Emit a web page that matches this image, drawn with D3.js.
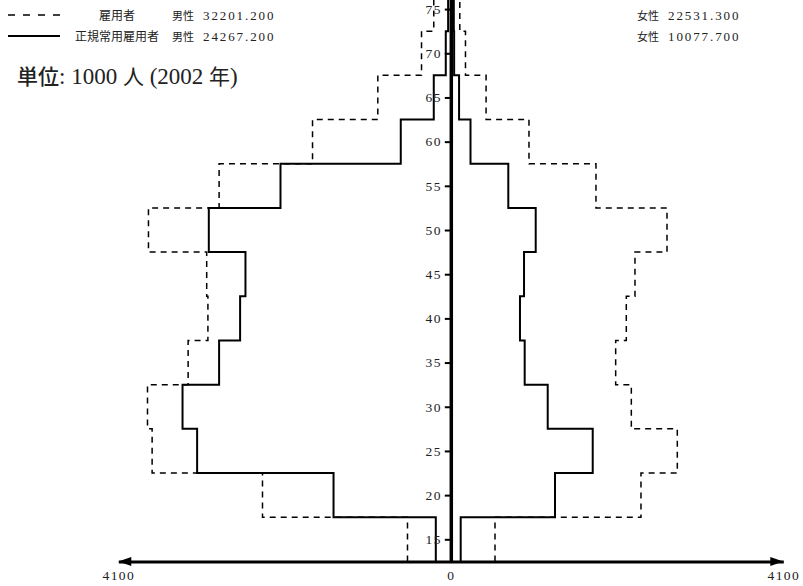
<!DOCTYPE html>
<html lang="ja">
<head>
<meta charset="UTF-8">
<script src="https://cdnjs.cloudflare.com/ajax/libs/d3/7.8.5/d3.min.js"></script>
<title>雇用者 年齢別 2002</title>
<style>
    html, body {
        margin: 0;
        padding: 0;
        background: #fff;
    }
    .num {
        font-family: "Liberation Serif", serif;
        fill: #222;
    }
    .jp {
        font-family: "Noto Sans CJK JP", sans-serif;
        fill: #222;
    }
</style>
</head>
<body>
<script>
    // age groups (label position = middle of the 5 year class)
    const ageGroups = ['15-19', '20-24', '25-29', '30-34', '35-39', '40-44', '45-49',
                       '50-54', '55-59', '60-64', '65-69', '70-74', '75+'];
    const ageMid = [15, 20, 25, 30, 35, 40, 45, 50, 55, 60, 65, 70, 75];

    // thousands of persons
    const maleEmployees   = [534, 2322, 3683, 3740, 3239, 2995, 3010, 3728, 2857, 1705, 900, 361, 210];
    const maleRegular     = [185, 1446, 3128, 3308, 2857, 2598, 2532, 2984, 2100, 617, 210, 62, 33];
    const femaleEmployees = [545, 2345, 2793, 2226, 2033, 2164, 2271, 2666, 1790, 964, 435, 181, 111];
    const femaleRegular   = [122, 1285, 1750, 1195, 911, 853, 903, 1047, 709, 243, 102, 41, 37];

    const seriesNames = ['雇用者', '正規常用雇用者'];
    const maleTotals = ['32201.200', '24267.200'];
    const femaleTotals = ['22531.300', '10077.700'];

    const ageTicks = [15, 20, 25, 30, 35, 40, 45, 50, 55, 60, 65, 70, 75];
    const xTicks = [-4100, 0, 4100];
    const unitText = ['単位', ': 1000 ', '人', ' (2002 ', '年', ')'];

    const width = 803;
    const height = 586;
    const halfClass = 2.5;

    const svg = d3.select('body')
        .append('svg')
        .attr('width', width)
        .attr('height', height);

    const x = d3.scaleLinear()
        .domain([-4100, 4100])
        .range([118.3, 783.3]);

    const y = d3.scaleLinear()
        .domain([12.5, 77.5])
        .range([561.4, -13]);

    const line = d3.line()
        .x(function(d) { return x(d[0]) })
        .y(function(d) { return y(d[1]) });

    const stepPoints = function(values, sign) {
        return values.flatMap(function(v, i) {
            return [[sign * v, ageMid[i] - halfClass], [sign * v, ageMid[i] + halfClass]];
        });
    };

    // step outlines
    const series = [
        { values: maleEmployees, sign: -1, dash: '6,5', w: 1.5 },
        { values: femaleEmployees, sign: 1, dash: '6,5', w: 1.5 },
        { values: maleRegular, sign: -1, dash: null, w: 2 },
        { values: femaleRegular, sign: 1, dash: null, w: 2 }
    ];

    svg.selectAll('.step')
        .data(series)
        .enter()
        .append('path')
        .attr('class', 'step')
        .attr('d', function(s) { return line(stepPoints(s.values, s.sign)) })
        .attr('fill', 'none')
        .attr('stroke', '#000')
        .attr('stroke-width', function(s) { return s.w })
        .attr('stroke-dasharray', function(s) { return s.dash });

    // vertical age axis in the middle
    const yAxis = d3.axisLeft(y)
        .tickValues(ageTicks)
        .tickSizeInner(6)
        .tickSizeOuter(0)
        .tickPadding(3);

    const yAxisG = svg.append('g')
        .attr('transform', 'translate(' + x(0) + ',0)')
        .call(yAxis);

    yAxisG.select('.domain').attr('stroke', '#000').attr('stroke-width', 3.5);
    yAxisG.selectAll('.tick line').attr('stroke', '#000').attr('stroke-width', 2).attr('x2', -6).attr('x1', 2);
    yAxisG.selectAll('.tick text')
        .attr('class', 'num')
        .attr('font-size', 13.5)
        .attr('letter-spacing', 1.4)
        .attr('font-family', null);

    // horizontal axis with arrows
    const xAxis = d3.axisBottom(x)
        .tickValues(xTicks)
        .tickSize(0)
        .tickPadding(9)
        .tickFormat(function(d) { return Math.abs(d) });

    const xAxisG = svg.append('g')
        .attr('transform', 'translate(0,' + y(12.5) + ')')
        .call(xAxis);

    xAxisG.select('.domain').attr('stroke', '#000').attr('stroke-width', 3);
    xAxisG.selectAll('.tick text')
        .attr('class', 'num')
        .attr('font-size', 13.5)
        .attr('letter-spacing', 1.4)
        .attr('font-family', null);

    xAxisG.selectAll('.arrow')
        .data([xTicks[0], xTicks[2]])
        .enter()
        .append('path')
        .attr('class', 'arrow')
        .attr('d', function(d) {
            const tip = x(d);
            const back = d < 0 ? tip + 13 : tip - 13;
            return 'M' + tip + ',0L' + back + ',-4.5L' + back + ',4.5Z';
        })
        .attr('fill', '#000');

    // legend
    const legend = svg.append('g').attr('class', 'legend');
    const legendY = [15, 36];

    legend.selectAll('.legend-line')
        .data(seriesNames)
        .enter()
        .append('line')
        .attr('x1', 8)
        .attr('x2', 60)
        .attr('y1', function(d, i) { return legendY[i] })
        .attr('y2', function(d, i) { return legendY[i] })
        .attr('stroke', '#000')
        .attr('stroke-width', function(d, i) { return i ? 2 : 1.5 })
        .attr('stroke-dasharray', function(d, i) { return i ? null : '7,8' });

    legend.selectAll('.legend-name')
        .data(seriesNames)
        .enter()
        .append('text')
        .attr('class', 'jp')
        .attr('x', 117)
        .attr('y', function(d, i) { return legendY[i] + 4.5 })
        .attr('text-anchor', 'middle')
        .attr('font-size', 12)
        .text(function(d) { return d });

    const totalText = function(xPos, totals, label) {
        const t = legend.selectAll(null)
            .data(totals)
            .enter()
            .append('text')
            .attr('x', xPos)
            .attr('y', function(d, i) { return legendY[i] + 4.5 });
        t.append('tspan')
            .attr('class', 'jp')
            .attr('font-size', 11)
            .text(label);
        t.append('tspan')
            .attr('class', 'num')
            .attr('dx', 9)
            .attr('font-size', 13)
            .attr('letter-spacing', 1.9)
            .text(function(d) { return d });
    };

    totalText(172, maleTotals, '男性');
    totalText(637, femaleTotals, '女性');

    // unit note
    const unit = svg.append('text')
        .attr('x', 17)
        .attr('y', 84)
        .attr('font-size', 23);

    unit.selectAll('tspan')
        .data(unitText)
        .enter()
        .append('tspan')
        .attr('class', function(d, i) { return i % 2 ? 'num' : 'jp' })
        .attr('font-size', function(d, i) { return i % 2 ? 23 : 21 })
        .attr('font-weight', function(d, i) { return i === 0 ? 500 : null })
        .text(function(d) { return d });
</script>
</body>
</html>
